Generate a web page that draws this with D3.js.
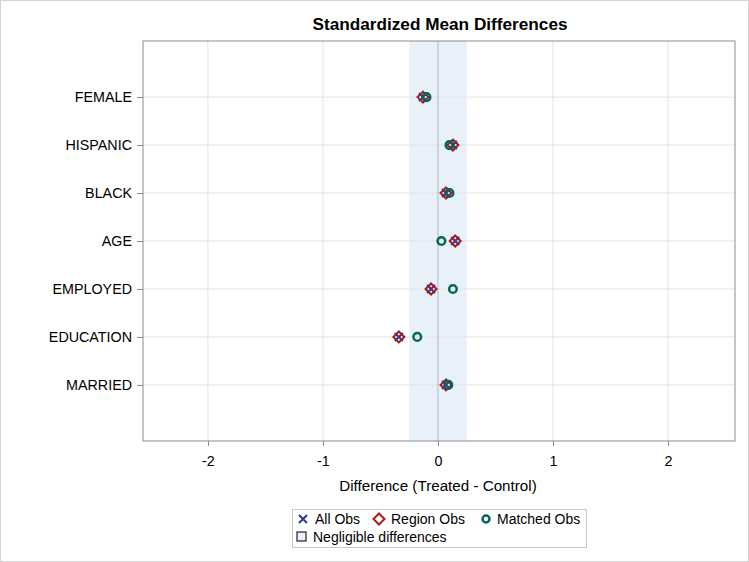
<!DOCTYPE html>
<html>
<head>
<meta charset="utf-8">
<script src="https://cdn.jsdelivr.net/npm/d3@7/dist/d3.min.js"></script>
<style>
  body { margin: 0; background: #fff; }
  text { font-family: "Liberation Sans", Arial, sans-serif; }
</style>
</head>
<body>
<div id="chart"></div>
<script>
var svgWidth = 749;
var svgHeight = 562;

// data
var variables = ["FEMALE", "HISPANIC", "BLACK", "AGE", "EMPLOYED", "EDUCATION", "MARRIED"];
var allObs = [-0.13, 0.13, 0.07, 0.15, -0.06, -0.34, 0.07];
var regionObs = [-0.13, 0.13, 0.07, 0.15, -0.06, -0.34, 0.07];
var matchedObs = [-0.10, 0.10, 0.10, 0.03, 0.13, -0.18, 0.09];
var xTicks = [-2, -1, 0, 1, 2];
var negligible = 0.25;

var margin = { top: 41, right: 14, bottom: 121, left: 143 };
var chartWidth = svgWidth - margin.left - margin.right;
var chartHeight = svgHeight - margin.top - margin.bottom;

var svg = d3.select("#chart").append("svg")
  .attr("width", svgWidth)
  .attr("height", svgHeight);

// outer border of the image
svg.append("rect")
  .attr("x", 0.5).attr("y", 0.5)
  .attr("width", svgWidth - 1).attr("height", svgHeight - 1)
  .attr("fill", "none").attr("stroke", "#d4d4d4");

svg.append("text")
  .attr("x", margin.left + chartWidth / 2 + 1)
  .attr("y", 30)
  .attr("text-anchor", "middle")
  .attr("font-size", 17.2)
  .attr("font-weight", "bold")
  .text("Standardized Mean Differences");

var chartGroup = svg.append("g")
  .attr("transform", `translate(${margin.left}, ${margin.top})`);

var xScale = d3.scaleLinear()
  .domain([-2.565, 2.583])
  .range([0, chartWidth]);

var yScale = d3.scalePoint()
  .domain(variables)
  .range([0, chartHeight])
  .padding(1.17);

// negligible band
chartGroup.append("rect")
  .attr("x", xScale(-negligible))
  .attr("y", 0)
  .attr("width", xScale(negligible) - xScale(-negligible))
  .attr("height", chartHeight)
  .attr("fill", "#e8f0fa");

// grid lines
chartGroup.selectAll(".vgrid")
  .data(xTicks.filter(d => d !== 0))
  .enter().append("line")
  .attr("x1", d => xScale(d)).attr("x2", d => xScale(d))
  .attr("y1", 0).attr("y2", chartHeight)
  .attr("stroke", "#e3e3e3");

chartGroup.selectAll(".hgrid")
  .data(variables)
  .enter().append("line")
  .attr("x1", 0).attr("x2", chartWidth)
  .attr("y1", d => yScale(d)).attr("y2", d => yScale(d))
  .attr("stroke", "#e3e3e3");

// zero reference line
chartGroup.append("line")
  .attr("x1", xScale(0)).attr("x2", xScale(0))
  .attr("y1", 0).attr("y2", chartHeight)
  .attr("stroke", "#b4bac4");

// axes
var xAxis = d3.axisBottom(xScale).tickValues(xTicks).tickSize(5).tickPadding(10)
  .tickFormat(d3.format("d"));
var yAxis = d3.axisLeft(yScale).tickSize(6).tickPadding(5);

var gx = chartGroup.append("g")
  .attr("transform", `translate(0, ${chartHeight})`)
  .call(xAxis);
var gy = chartGroup.append("g").call(yAxis);

[gx, gy].forEach(function(g) {
  g.select(".domain").remove();
  g.selectAll(".tick line").attr("stroke", "#888");
  g.selectAll(".tick text")
    .attr("fill", "#000")
    .attr("font-size", 14.3)
    .attr("font-family", "'Liberation Sans', Arial, sans-serif");
});
gx.selectAll(".tick text").text(d => d < 0 ? "-" + Math.abs(d) : d);

// frame
chartGroup.append("rect")
  .attr("x", 0).attr("y", 0)
  .attr("width", chartWidth).attr("height", chartHeight)
  .attr("fill", "none").attr("stroke", "#8c8c8c");

chartGroup.append("text")
  .attr("x", xScale(0))
  .attr("y", chartHeight + 50)
  .attr("text-anchor", "middle")
  .attr("font-size", 15.2)
  .text("Difference (Treated - Control)");

// markers
var blue = "#2a3a9c", red = "#a61b1b", green = "#01665e";

function drawX(g, x, y, s) {
  g.append("path")
    .attr("d", `M${x - s},${y - s}L${x + s},${y + s}M${x - s},${y + s}L${x + s},${y - s}`)
    .attr("stroke", blue).attr("stroke-width", 2).attr("fill", "none");
}
function drawDiamond(g, x, y, s) {
  g.append("path")
    .attr("d", `M${x},${y - s}L${x + s},${y}L${x},${y + s}L${x - s},${y}Z`)
    .attr("stroke", red).attr("stroke-width", 2).attr("fill", "none");
}
function drawCircle(g, x, y, r) {
  g.append("circle")
    .attr("cx", x).attr("cy", y).attr("r", r)
    .attr("stroke", green).attr("stroke-width", 2.5).attr("fill", "none");
}

variables.forEach(function(v, i) {
  drawX(chartGroup, xScale(allObs[i]), yScale(v), 4);
  drawDiamond(chartGroup, xScale(regionObs[i]), yScale(v), 5.5);
  drawCircle(chartGroup, xScale(matchedObs[i]), yScale(v), 3.8);
});

// legend
var legend = svg.append("g");
legend.append("rect")
  .attr("x", 292.5).attr("y", 509.5)
  .attr("width", 294).attr("height", 38)
  .attr("fill", "#fff").attr("stroke", "#c8c8c8");

drawX(legend, 303, 519, 4);
drawDiamond(legend, 379, 519, 5.5);
drawCircle(legend, 486, 519, 3.5);
legend.append("rect")
  .attr("x", 297).attr("y", 532)
  .attr("width", 9).attr("height", 9)
  .attr("fill", "#e8f0fa").attr("stroke", "#222").attr("stroke-width", 1.2);

var legendItems = [
  { label: "All Obs", x: 315, y: 524 },
  { label: "Region Obs", x: 391, y: 524 },
  { label: "Matched Obs", x: 497, y: 524 },
  { label: "Negligible differences", x: 313, y: 542 }
];
legend.selectAll(".ltext")
  .data(legendItems)
  .enter().append("text")
  .attr("x", d => d.x).attr("y", d => d.y)
  .attr("font-size", 14)
  .text(d => d.label);
</script>
</body>
</html>
